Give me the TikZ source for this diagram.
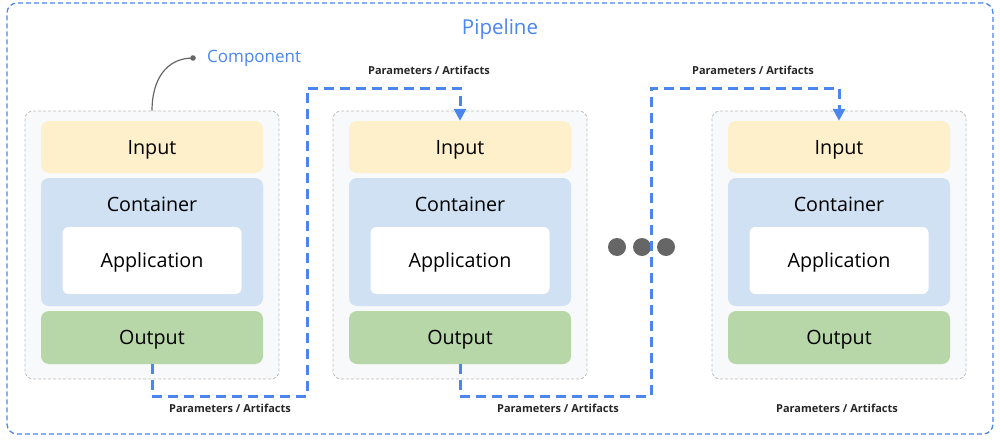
\documentclass[tikz,border=0pt]{standalone}
\usepackage{fontspec}
\setmainfont{Open Sans}
\usetikzlibrary{arrows.meta,positioning}
\definecolor{pblue}{HTML}{4A86EE}
\definecolor{inyellow}{HTML}{FDF0CA}
\definecolor{contblue}{HTML}{CFE1F2}
\definecolor{outgreen}{HTML}{B7D7A8}
\definecolor{compfill}{HTML}{F8F9FA}
\definecolor{compedge}{HTML}{BDBDBD}
\definecolor{dotgray}{HTML}{666666}
\tikzset{
  lbl/.style={font=\fontsize{19.7}{22}\selectfont, text height=14pt, text depth=0pt},
  compbox/.style={draw=compedge, dash pattern=on 3pt off 2pt, line width=0.8pt, fill=compfill, rounded corners=8pt, minimum width=254pt, minimum height=268pt, inner sep=0pt},
  inbox/.style={lbl, fill=inyellow, rounded corners=8pt, minimum width=222pt, minimum height=52pt, inner sep=0pt},
  contbox/.style={fill=contblue, rounded corners=8pt, minimum width=222pt, minimum height=128pt, inner sep=0pt},
  appbox/.style={lbl, fill=white, rounded corners=6pt, minimum width=179pt, minimum height=67pt, inner sep=0pt},
  outbox/.style={lbl, fill=outgreen, rounded corners=8pt, minimum width=222pt, minimum height=53pt, inner sep=0pt},
  plain/.style={lbl, inner sep=0pt},
  flow/.style={draw=pblue, line width=3pt, dash pattern=on 10pt off 6pt, -{Triangle[length=12pt,width=12pt]}},
  paramlbl/.style={inner sep=0pt, font=\fontsize{11}{13}\selectfont\bfseries, text=black!85},
  dotnode/.style={circle, fill=dotgray, minimum size=18pt, inner sep=0pt},
}
\begin{document}
\begin{tikzpicture}[x=1pt,y=-1pt]
\useasboundingbox (0,0) rectangle (1000,447);
% pipeline
\node[draw=pblue, dash pattern=on 5pt off 3pt, line width=1.3pt, rounded corners=10pt, minimum width=986pt, minimum height=431pt, inner sep=0pt] (pipeline) at (500,218.5) {};
\node[inner sep=0pt, text=pblue, font=\fontsize{20.5}{24}\selectfont] (ptitle) at (500,29) {Pipeline};
% components
\foreach \i/\cx in {1/152, 2/460, 3/839} {
  \node[compbox] (comp\i) at (\cx,245) {};
  \node[inbox] (in\i) at (\cx,147) {Input};
  \node[contbox] (cont\i) at (\cx,242) {};
  \node[plain] (ct\i) at (\cx,204) {Container};
  \node[appbox] (app\i) at (\cx,260.5) {Application};
  \node[outbox] (out\i) at (\cx,337.5) {Output};
}
% dots
\node[dotnode] (d1) at (617,247) {};
\node[dotnode] (d2) at (642,247) {};
\node[dotnode] (d3) at (666,247) {};
% component label
\node[inner sep=0pt, text=pblue, font=\fontsize{17}{20}\selectfont, anchor=west] (complbl) at (207,58) {Component};
\coordinate (cdot) at (193,58);
\draw[dotgray, line width=1.2pt] (comp1.north) .. controls (152,80) and (166,58) .. (cdot);
\fill[dotgray] (cdot) circle (2.8pt);
% connectors
\coordinate (k1) at (307,396);
\coordinate (k2) at (307,88);
\coordinate (k3) at (651,396);
\coordinate (k4) at (651,88);
\draw[flow] (out1.south) |- (k1) -- (k2) -| (in2.north);
\draw[flow] (out2.south) |- (k3) -- (k4) -| (in3.north);
% labels
\node[paramlbl] (pa1) at (429,70) {Parameters / Artifacts};
\node[paramlbl] (pa2) at (753,70) {Parameters / Artifacts};
\node[paramlbl] (pa3) at (230,408) {Parameters / Artifacts};
\node[paramlbl] (pa4) at (558,408) {Parameters / Artifacts};
\node[paramlbl] (pa5) at (837,408) {Parameters / Artifacts};
\end{tikzpicture}
\end{document}
